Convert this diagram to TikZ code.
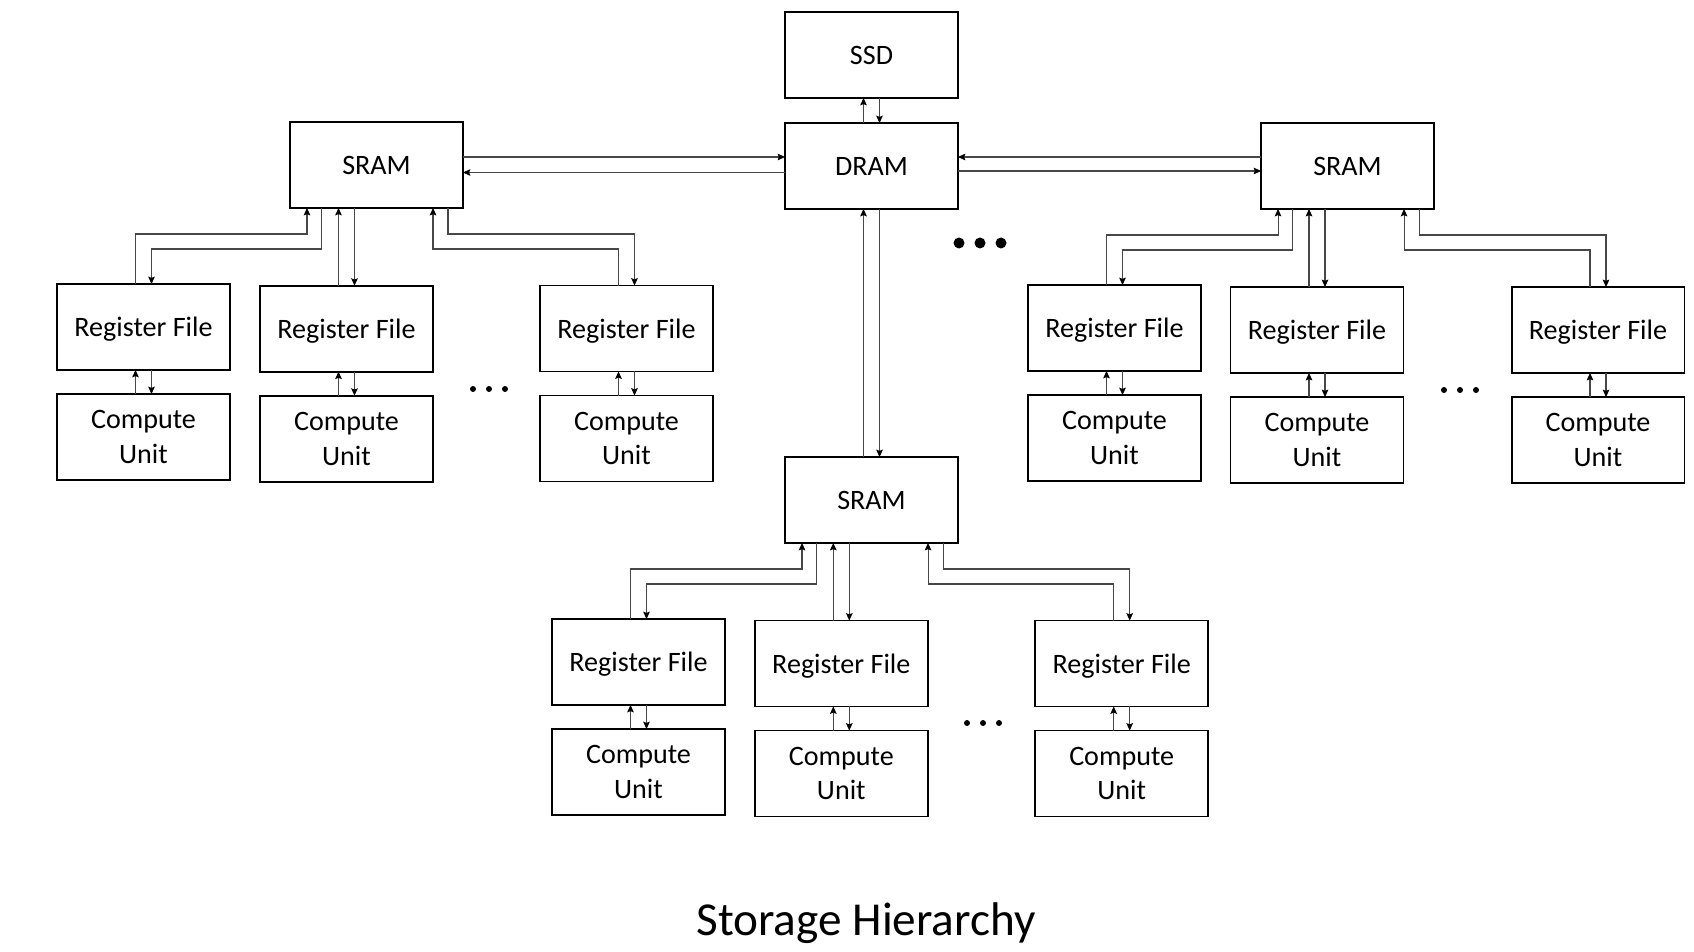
\documentclass[tikz,border=0pt]{standalone}
\usepackage{fontspec}
\setmainfont{Carlito}
\usetikzlibrary{calc,arrows.meta}
\tikzset{
  blk/.style={draw=black, line width=1.1pt, minimum width=3.46cm, minimum height=1.72cm,
    inner sep=0pt, outer sep=0pt, align=center, text depth=0pt, font=\fontsize{16}{19.6}\selectfont},
  conn/.style={draw=black!72, line width=0.6pt, -{Stealth[length=4.2pt,width=3.8pt,inset=0.7pt,color=black]}},
  dotsm/.style={fill=black, draw=none, circle, minimum size=0.12cm, inner sep=0pt},
}
\newcommand{\hgroup}[4]{%
  \draw[conn] ($(#2.north)+(-8,0)$) |- ($(#1.south west)+(17,26)$) -- ($(#1.south west)+(17,0)$);
  \draw[conn] ($(#1.south west)+(31.7,0)$) -- ($(#1.south west)+(31.7,41)$) -| ($(#2.north)+(8,0)$);
  \path ($(#3.north)+(-8,0)$) coordinate (#3up) ($(#3.north)+(8,0)$) coordinate (#3dn);
  \draw[conn] (#3up) -- (#3up |- #1.south);
  \draw[conn] (#3dn |- #1.south) -- (#3dn);
  \draw[conn] ($(#4.north)+(-8,0)$) |- ($(#1.south west)+(143,41)$) -- ($(#1.south west)+(143,0)$);
  \draw[conn] ($(#1.south west)+(158,0)$) -- ($(#1.south west)+(158,26)$) -| ($(#4.north)+(8,0)$);
}
\newcommand{\rfcu}[2]{%
  \path ($(#1.south)+(-8,0)$) coordinate (#1u) ($(#1.south)+(8,0)$) coordinate (#1d);
  \draw[conn] (#1u |- #2.north) -- (#1u);
  \draw[conn] (#1d) -- (#1d |- #2.north);
}
\begin{document}
\begin{tikzpicture}[x=0.02cm, y=-0.02cm]
\useasboundingbox (0,0) rectangle (1694,952);
\fill[white] (0,0) rectangle (1694,952);

% top level
\node[blk] (ssd)  at (871.5,55)  {SSD};
\node[blk] (dram) at (871.5,166) {DRAM};
\node[blk] (sl)   at (376.5,165) {SRAM};
\node[blk] (sr)   at (1347.5,166) {SRAM};
\node[blk] (sb)   at (871.5,500) {SRAM};

% left group
\node[blk] (rf1) at (143.5,327)  {Register File};
\node[blk] (cu1) at (143.5,437)  {Compute\\Unit};
\node[blk] (rf2) at (346.5,328.7) {Register File};
\node[blk] (cu2) at (346.5,438.7) {Compute\\Unit};
\node[blk] (rf3) at (626.5,328.5) {Register File};
\node[blk] (cu3) at (626.5,438.5) {Compute\\Unit};

% right group
\node[blk] (rf4) at (1114.5,328) {Register File};
\node[blk] (cu4) at (1114.5,438) {Compute\\Unit};
\node[blk] (rf5) at (1317,330)   {Register File};
\node[blk] (cu5) at (1317,440)   {Compute\\Unit};
\node[blk] (rf6) at (1598,330)   {Register File};
\node[blk] (cu6) at (1598,440)   {Compute\\Unit};

% bottom group
\node[blk] (rf7) at (638.5,662)   {Register File};
\node[blk] (cu7) at (638.5,772)   {Compute\\Unit};
\node[blk] (rf8) at (841.3,663.5) {Register File};
\node[blk] (cu8) at (841.3,773.5) {Compute\\Unit};
\node[blk] (rf9) at (1121.7,663.5) {Register File};
\node[blk] (cu9) at (1121.7,773.5) {Compute\\Unit};

% SSD <-> DRAM
\path ($(dram.north)+(-8,0)$) coordinate (du) ($(dram.north)+(8,0)$) coordinate (dd);
\draw[conn] (du) -- (du |- ssd.south);
\draw[conn] (dd |- ssd.south) -- (dd);

% DRAM <-> bottom SRAM
\path ($(dram.south)+(-8,0)$) coordinate (bu) ($(dram.south)+(8,0)$) coordinate (bd);
\draw[conn] (bu |- sb.north) -- (bu);
\draw[conn] (bd) -- (bd |- sb.north);

% DRAM <-> left SRAM
\path ($(dram.west)+(0,-9)$) coordinate (lw1) ($(dram.west)+(0,6.5)$) coordinate (lw2);
\draw[conn] (lw1 -| sl.east) -- (lw1);
\draw[conn] (lw2) -- (lw2 -| sl.east);

% DRAM <-> right SRAM
\path ($(dram.east)+(0,-9)$) coordinate (re1) ($(dram.east)+(0,5)$) coordinate (re2);
\draw[conn] (re1 -| sr.west) -- (re1);
\draw[conn] (re2) -- (re2 -| sr.west);

% SRAM <-> register files
\hgroup{sl}{rf1}{rf2}{rf3}
\hgroup{sr}{rf4}{rf5}{rf6}
\hgroup{sb}{rf7}{rf8}{rf9}

% register file <-> compute unit
\rfcu{rf1}{cu1}
\rfcu{rf2}{cu2}
\rfcu{rf3}{cu3}
\rfcu{rf4}{cu4}
\rfcu{rf5}{cu5}
\rfcu{rf6}{cu6}
\rfcu{rf7}{cu7}
\rfcu{rf8}{cu8}
\rfcu{rf9}{cu9}

% ellipses
\foreach \i/\x in {a/473,b/489,c/505} \node[dotsm] (dl\i) at (\x,389) {};
\foreach \i/\x in {a/1444,b/1460,c/1476} \node[dotsm] (dr\i) at (\x,390) {};
\foreach \i/\x in {a/967,b/983,c/999} \node[dotsm] (db\i) at (\x,723) {};
\foreach \i/\x in {a/959,b/980,c/1001} \node[dotsm, minimum size=0.22cm] (dt\i) at (\x,243) {};

% title
\node[anchor=base, font=\fontsize{26.9}{32}\selectfont, inner sep=0pt] (title) at (866,935) {Storage Hierarchy};
\end{tikzpicture}
\end{document}
